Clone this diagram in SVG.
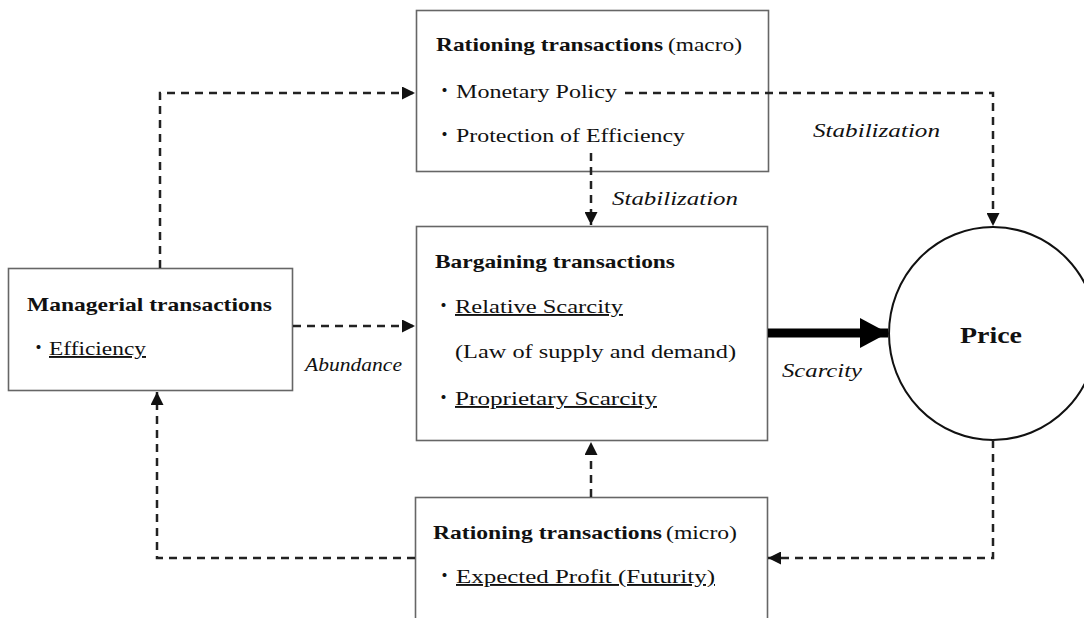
<svg xmlns="http://www.w3.org/2000/svg" width="1084" height="618" viewBox="0 0 1084 618">
<style>
.box{fill:#fff;stroke:#666;stroke-width:1.6}
.t{font-family:"Liberation Serif","Noto Sans CJK JP",serif;font-size:19px;fill:#111}
.b{font-weight:bold}
.i{font-style:italic}
.u{text-decoration:underline}
.dot{font-family:"Noto Sans CJK JP",sans-serif;font-size:19px;fill:#111}
.dash{fill:none;stroke:#222;stroke-width:2.5;stroke-dasharray:8 6}
</style>
<defs>
<marker id="ah" markerUnits="userSpaceOnUse" markerWidth="13" markerHeight="13" refX="13" refY="6.5" orient="auto">
<path d="M0,0 L13,6.5 L0,13 z" fill="#111"/>
</marker>
<marker id="big" markerUnits="userSpaceOnUse" markerWidth="30" markerHeight="30" refX="28" refY="15" orient="auto">
<path d="M0,0 L28,15 L0,30 z" fill="#000"/>
</marker>
</defs>
<rect width="1084" height="618" fill="#fff"/>

<g id="rationing-macro">
<rect class="box" x="416.5" y="10.5" width="352" height="161"/>
<text class="t b" x="436" y="51" textLength="227" lengthAdjust="spacingAndGlyphs">Rationing transactions</text>
<text class="t" x="668" y="51" textLength="74" lengthAdjust="spacingAndGlyphs">(macro)</text>
<text class="dot" x="435" y="98">・</text>
<text class="t" x="456" y="98" textLength="161" lengthAdjust="spacingAndGlyphs">Monetary Policy</text>
<text class="dot" x="435" y="142">・</text>
<text class="t" x="456" y="142" textLength="229" lengthAdjust="spacingAndGlyphs">Protection of Efficiency</text>
</g>

<g id="managerial">
<rect class="box" x="8.5" y="268.5" width="284" height="122"/>
<text class="t b" x="27" y="311" textLength="245" lengthAdjust="spacingAndGlyphs">Managerial transactions</text>
<text class="dot" x="29" y="355">・</text>
<text class="t u" x="49" y="355" textLength="97" lengthAdjust="spacingAndGlyphs">Efficiency</text>
</g>

<g id="bargaining">
<rect class="box" x="416.5" y="226.5" width="351" height="214"/>
<text class="t b" x="435" y="268" textLength="240" lengthAdjust="spacingAndGlyphs">Bargaining transactions</text>
<text class="dot" x="434" y="313">・</text>
<text class="t u" x="455" y="313" textLength="168" lengthAdjust="spacingAndGlyphs">Relative Scarcity</text>
<text class="t" x="455" y="358" textLength="281" lengthAdjust="spacingAndGlyphs">(Law of supply and demand)</text>
<text class="dot" x="434" y="405">・</text>
<text class="t u" x="455" y="405" textLength="202" lengthAdjust="spacingAndGlyphs">Proprietary Scarcity</text>
</g>

<g id="rationing-micro">
<rect class="box" x="415.5" y="497.5" width="352" height="130"/>
<text class="t b" x="433" y="539" textLength="229" lengthAdjust="spacingAndGlyphs">Rationing transactions</text>
<text class="t" x="666" y="539" textLength="71" lengthAdjust="spacingAndGlyphs">(micro)</text>
<text class="dot" x="435" y="583">・</text>
<text class="t u" x="456" y="583" textLength="259" lengthAdjust="spacingAndGlyphs">Expected Profit (Futurity)</text>
</g>

<g id="price">
<ellipse cx="993" cy="333.5" rx="104" ry="106.5" fill="#fff" stroke="#111" stroke-width="2"/>
<text class="t b" x="991" y="343" text-anchor="middle" style="font-size:24px" textLength="62" lengthAdjust="spacingAndGlyphs">Price</text>
</g>

<g id="connectors">
<path class="dash" d="M160,268 V93 H415" marker-end="url(#ah)"/>
<path class="dash" d="M625,93 H993 V226" marker-end="url(#ah)"/>
<path class="dash" d="M591,153 V225" marker-end="url(#ah)"/>
<path class="dash" d="M293,326 H415" marker-end="url(#ah)"/>
<path d="M768,333 H888" fill="none" stroke="#000" stroke-width="9" marker-end="url(#big)"/>
<path class="dash" d="M993,440 V558 H768" marker-end="url(#ah)"/>
<path class="dash" d="M591,497 V442" marker-end="url(#ah)"/>
<path class="dash" d="M415,558 H157 V392" marker-end="url(#ah)"/>
<text class="t i" x="813" y="137" textLength="127" lengthAdjust="spacingAndGlyphs">Stabilization</text>
<text class="t i" x="612" y="205" textLength="126" lengthAdjust="spacingAndGlyphs">Stabilization</text>
<text class="t i" x="305" y="371" textLength="97" lengthAdjust="spacingAndGlyphs">Abundance</text>
<text class="t i" x="782" y="377" textLength="80" lengthAdjust="spacingAndGlyphs">Scarcity</text>
</g>
</svg>
